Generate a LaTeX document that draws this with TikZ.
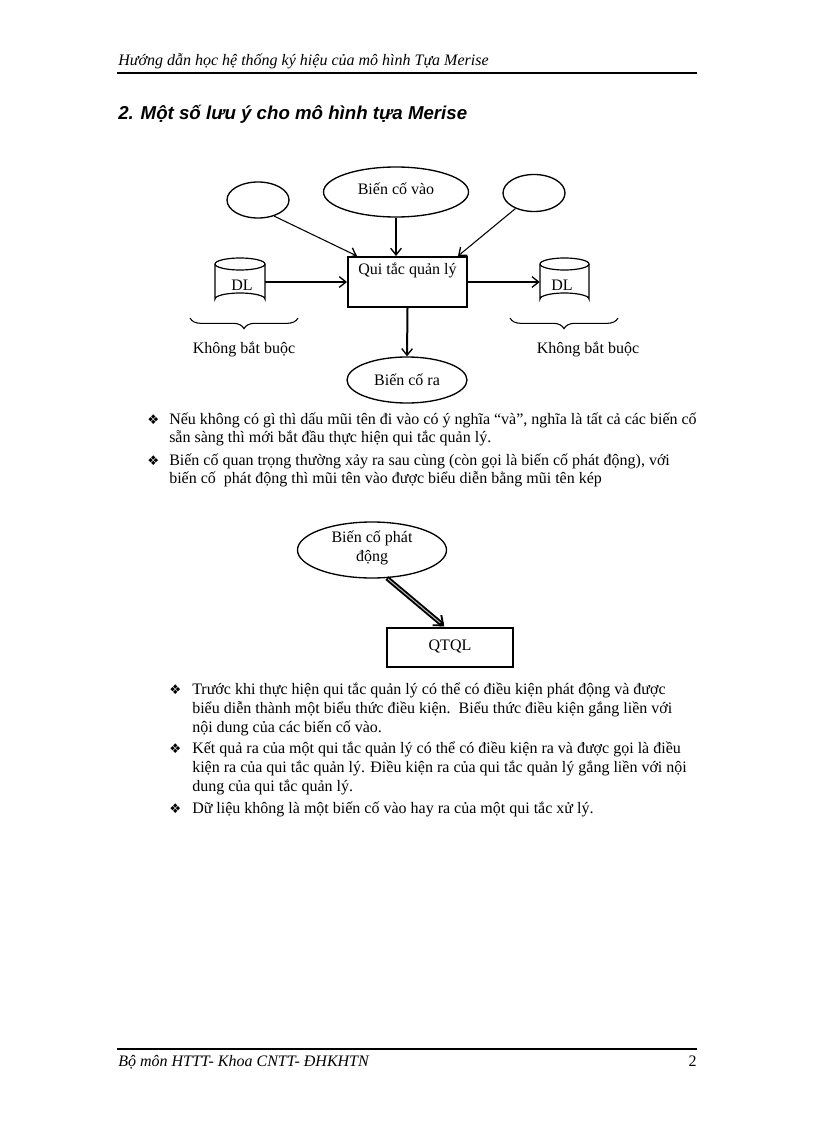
\documentclass[tikz,border=0pt]{standalone}
\usepackage{fontspec}
\setmainfont{Liberation Serif}
\newfontfamily\arialf{Liberation Sans}
\newfontfamily\dejavu{DejaVu Sans}
\usetikzlibrary{shapes.geometric,arrows.meta,decorations.pathreplacing,calc}
\newcommand\mybul{{\dejavu\fontsize{10}{10}\selectfont ❖}}
\begin{document}
\begin{tikzpicture}[x=0.75pt,y=-0.75pt,
  txt/.style={anchor=base west, inner sep=0pt, font=\fontsize{12}{14}\selectfont},
  bul/.style={anchor=base west, inner sep=0pt},
  lbl/.style={inner sep=0pt, font=\fontsize{12}{14}\selectfont},
  ell/.style={ellipse, draw, line width=1pt, inner sep=0pt},
  box/.style={rectangle, draw, line width=1.5pt, inner sep=0pt},
  arr/.style={-{Straight Barb[length=5pt,width=8pt,line width=1pt]}, line width=0.8pt},
  cyl/.style={line width=0.9pt},
  br/.style={decorate, decoration={brace, amplitude=8pt, mirror}, line width=0.8pt}
  ]
\fill[white] (0,0) rectangle (816,1123);
\useasboundingbox (0,0) rectangle (816,1123);

% header
\node[txt, font=\fontsize{12}{14}\selectfont\itshape] (hdr) at (118,66) {Hướng dẫn học hệ thống ký hiệu của mô hình Tựa Merise};
\coordinate (hl1) at (117,73); \coordinate (hl2) at (697,73);
\draw[line width=1.2pt] (hl1) -- (hl2);

% title
\node[txt, font=\arialf\bfseries\itshape\fontsize{14}{16}\selectfont] (title) at (118,120) {2. Một số lưu ý cho mô hình tựa Merise};

% diagram 1
\node[ell, minimum width=62*0.75pt, minimum height=36*0.75pt] (e1) at (258,200) {};
\node[ell, minimum width=145*0.75pt, minimum height=50*0.75pt] (bv) at (396,192) {};
\node[lbl] (bvt) at (396,189) {Biến cố vào};
\node[ell, minimum width=62*0.75pt, minimum height=37*0.75pt] (e3) at (534,193) {};
\node[box, minimum width=119*0.75pt, minimum height=50*0.75pt] (qt) at (407.5,282) {};
\node[lbl, anchor=north] (qtt) at ($(qt.north)+(0,7)$) {Qui tắc quản lý};

% cylinders
\node[inner sep=0pt, minimum width=50*0.75pt, minimum height=49*0.75pt] (dl1) at (240,282) {};
\draw[cyl] (215,264) -- (215,299) arc[start angle=180,end angle=360,x radius=25,y radius=6] -- (265,264);
\draw[cyl] (240,264) ellipse[x radius=25,y radius=6];
\node[lbl] (dl1t) at (242,285) {DL};
\node[inner sep=0pt, minimum width=49*0.75pt, minimum height=49*0.75pt] (dl2) at (564.5,282) {};
\draw[cyl] (540,264) -- (540,299) arc[start angle=180,end angle=360,x radius=24.5,y radius=6] -- (589,264);
\draw[cyl] (564.5,264) ellipse[x radius=24.5,y radius=6];
\node[lbl] (dl2t) at (562,285) {DL};

\node[ell, minimum width=120*0.75pt, minimum height=46*0.75pt] (br) at (407,380) {};
\node[lbl] (brt) at (407,380) {Biến cố ra};

% arrows
\draw[arr] (e1.-45) -- ($(qt.north west)+(10,0)$);
\draw[arr] (bv.south) -- (bv.south |- qt.north);
\draw[arr] (e3.-140) -- ($(qt.north east)+(-10,0)$);
\draw[arr] (dl1.east) -- (dl1.east -| qt.west);
\draw[arr] (qt.east) -- (qt.east -| dl2.west);
\draw[arr, line width=1.5pt] (qt.south) -- (br.north);

% braces
\coordinate (b1a) at (190,318); \coordinate (b1b) at (298,318);
\coordinate (b2a) at (510,318); \coordinate (b2b) at (618,318);
\draw[br] (b1a) -- (b1b);
\draw[br] (b2a) -- (b2b);
\node[lbl] (kb1) at (244,349) {Không bắt buộc};
\node[lbl] (kb2) at (588,349) {Không bắt buộc};

% bullets block 1
\node[bul] (u1) at (147,424) {\mybul};
\node[txt] (l1) at (169,424) {Nếu không có gì thì dấu mũi tên đi vào có ý nghĩa “và”, nghĩa là tất cả các biến cố};
\node[txt] (l2) at (169,442) {sẵn sàng thì mới bắt đầu thực hiện qui tắc quản lý.};
\node[bul] (u2) at (147,465) {\mybul};
\node[txt] (l3) at (169,465) {Biến cố quan trọng thường xảy ra sau cùng (còn gọi là biến cố phát động), với};
\node[txt] (l4) at (169,483) {biến cố\ \ phát động thì mũi tên vào được biểu diễn bằng mũi tên kép};

% diagram 2
\node[ell, minimum width=149*0.75pt, minimum height=56*0.75pt] (pd) at (372,550) {};
\node[lbl, align=center, font=\fontsize{12}{14.6}\selectfont] (pdt) at (372,548) {Biến cố phát\\động};
\node[rectangle, draw, line width=1.1pt, minimum width=126*0.75pt, minimum height=39*0.75pt] (q2) at (450,647.5) {};
\node[lbl] (q2t) at (450,646) {QTQL};
\draw[line width=3.6pt, -{Straight Barb[length=6pt,width=10pt,line width=1.4pt]}] (pd.-62) -- ($(q2.north west)+(58,-1)$);
\draw[gray!60, line width=0.8pt, shorten >=4pt, shorten <=1pt] (pd.-62) -- ($(q2.north west)+(58,-1)$);

% bullets block 2
\node[bul] (v1) at (169,694) {\mybul};
\node[txt] (m1) at (192,694) {Trước khi thực hiện qui tắc quản lý có thể có điều kiện phát động và được};
\node[txt] (m2) at (192,713) {biểu diễn thành một biểu thức điều kiện.\ \ Biểu thức điều kiện gắng liền với};
\node[txt] (m3) at (192,732) {nội dung của các biến cố vào.};
\node[bul] (v2) at (169,753) {\mybul};
\node[txt] (m4) at (192,753) {Kết quả ra của một qui tắc quản lý có thể có điều kiện ra và được gọi là điều};
\node[txt] (m5) at (192,772) {kiện ra của qui tắc quản lý. Điều kiện ra của qui tắc quản lý gắng liền với nội};
\node[txt] (m6) at (192,791) {dung của qui tắc quản lý.};
\node[bul] (v3) at (169,813) {\mybul};
\node[txt] (m7) at (192,813) {Dữ liệu không là một biến cố vào hay ra của một qui tắc xử lý.};

% footer
\coordinate (fl1) at (117,1049); \coordinate (fl2) at (697,1049);
\draw[line width=0.9pt] (fl1) -- (fl2);
\node[txt, font=\fontsize{12}{14}\selectfont\itshape] (ftr) at (118,1066) {Bộ môn HTTT- Khoa CNTT- ĐHKHTN};
\node[anchor=base east, inner sep=0pt, font=\fontsize{12}{14}\selectfont] (pg) at (697,1066) {2};
\end{tikzpicture}
\end{document}
